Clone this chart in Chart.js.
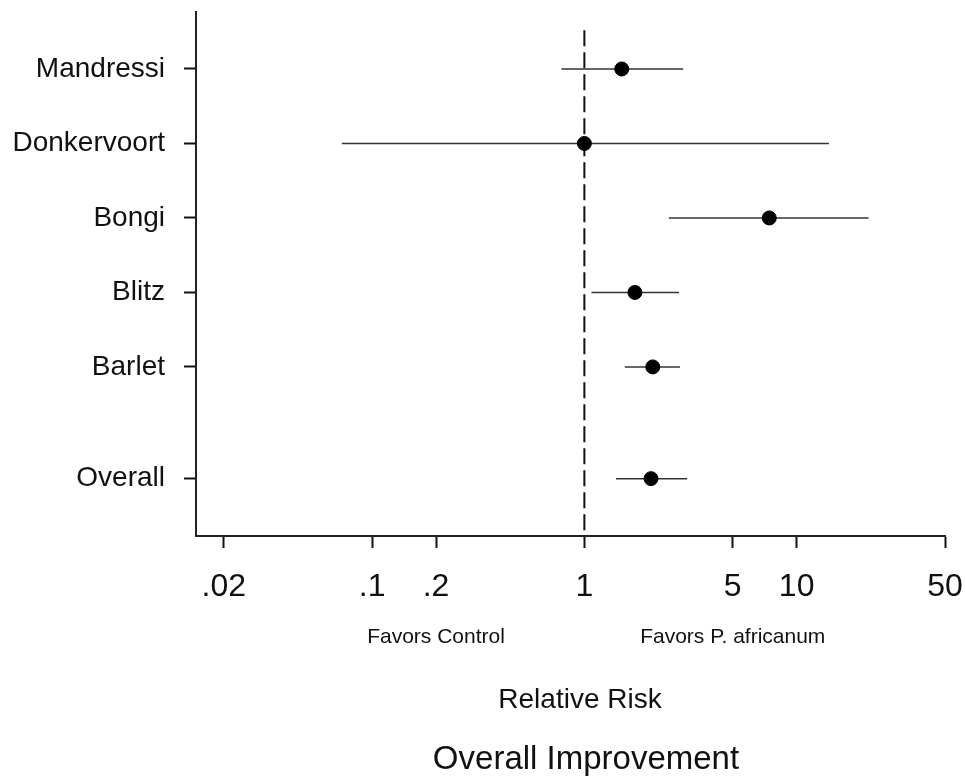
<!DOCTYPE html>
<html>
<head>
<meta charset="utf-8">
<script src="https://cdn.jsdelivr.net/npm/chart.js@4.4.1/dist/chart.umd.min.js"></script>
<style>
    html, body { margin: 0; padding: 0; background: #fff; }
    #wrap { width: 965px; height: 780px; }
</style>
</head>
<body>
<div id="wrap"><canvas id="forestChart"></canvas></div>
<script>
// Study rows (top to bottom) and their position on the y axis
const studies = ["Mandressi", "Donkervoort", "Bongi", "Blitz", "Barlet", "Overall"];
const rowPos = [1, 2, 3, 4, 5, 6.5];

// Relative risk with 95% CI
const relRisk = [1.50, 1.00, 7.43, 1.73, 2.10, 2.06];
const lowerCI = [0.78, 0.072, 2.50, 1.08, 1.55, 1.41];
const upperCI = [2.92, 14.2, 21.8, 2.79, 2.82, 3.05];

// X axis ticks
const xTicks = [0.02, 0.1, 0.2, 1, 5, 10, 50];
const xTickLabels = [".02", ".1", ".2", "1", "5", "10", "50"];

const FONT = '"Liberation Sans", Arial, sans-serif';
const INK = "#111";

// CI whiskers, one line dataset per study
const ciSets = studies.map((name, i) => ({
    type: "line",
    label: name + " CI",
    data: [{ x: lowerCI[i], y: rowPos[i] }, { x: upperCI[i], y: rowPos[i] }],
    borderColor: "#333",
    borderWidth: 1.5,
    pointRadius: 0,
    order: 2
}));

// Line of no effect at RR = 1
const noEffect = {
    type: "line",
    label: "no effect",
    data: [{ x: 1, y: 0.48 }, { x: 1, y: 7.27 }],
    borderColor: "#111",
    borderWidth: 2,
    borderDash: [16, 6],
    pointRadius: 0,
    order: 3
};

const points = {
    type: "scatter",
    label: "Relative Risk",
    data: studies.map((name, i) => ({ x: relRisk[i], y: rowPos[i] })),
    backgroundColor: "#000",
    borderColor: "#000",
    pointRadius: 7,
    order: 1
};

// Texts under the x axis
const bottomText = {
    id: "bottomText",
    afterDraw(chart) {
        const ctx = chart.ctx;
        const xs = chart.scales.x;
        ctx.save();
        ctx.fillStyle = INK;
        ctx.textAlign = "center";
        ctx.textBaseline = "middle";
        ctx.font = "21px " + FONT;
        ctx.fillText("Favors Control", xs.getPixelForValue(0.2), 637);
        ctx.fillText("Favors P. africanum", xs.getPixelForValue(5), 637);
        ctx.font = "28px " + FONT;
        ctx.fillText("Relative Risk", 580, 700);
        ctx.font = "33px " + FONT;
        ctx.fillText("Overall Improvement", 586, 760);
        ctx.restore();
    }
};

new Chart(document.getElementById("forestChart"), {
    data: { datasets: [noEffect, ...ciSets, points] },
    options: {
        responsive: true,
        maintainAspectRatio: false,
        animation: false,
        layout: { padding: { top: 12, right: 20, left: 0, bottom: 176 } },
        plugins: {
            legend: { display: false },
            tooltip: { enabled: false }
        },
        scales: {
            x: {
                type: "logarithmic",
                min: 0.0148,
                max: 50,
                afterBuildTicks: scale => {
                    scale.ticks = xTicks.map(v => ({ value: v }));
                },
                afterFit: scale => {
                    scale.height = 68;
                    scale.paddingLeft = 0;
                    scale.paddingRight = 0;
                },
                ticks: {
                    autoSkip: false,
                    maxRotation: 0,
                    padding: 20,
                    color: INK,
                    font: { family: FONT, size: 32 },
                    callback: (value) => {
                        const idx = xTicks.indexOf(value);
                        return idx >= 0 ? xTickLabels[idx] : "";
                    }
                },
                grid: {
                    drawOnChartArea: false,
                    drawTicks: true,
                    tickLength: 12,
                    tickColor: "#111",
                    tickWidth: 2
                },
                border: { display: true, color: "#222", width: 2 }
            },
            y: {
                type: "linear",
                reverse: true,
                min: 0.235,
                max: 7.27,
                afterBuildTicks: scale => {
                    scale.ticks = rowPos.map(v => ({ value: v }));
                },
                afterFit: scale => {
                    scale.width = 196;
                    scale.paddingTop = 0;
                    scale.paddingBottom = 0;
                },
                ticks: {
                    autoSkip: false,
                    padding: 19,
                    color: INK,
                    font: { family: FONT, size: 28, lineHeight: 0.8 },
                    callback: (value) => {
                        const idx = rowPos.indexOf(value);
                        return idx >= 0 ? studies[idx] : "";
                    }
                },
                grid: {
                    drawOnChartArea: false,
                    drawTicks: true,
                    tickLength: 12,
                    tickColor: "#111",
                    tickWidth: 2
                },
                border: { display: true, color: "#222", width: 2 }
            }
        }
    },
    plugins: [bottomText]
});
</script>
</body>
</html>
